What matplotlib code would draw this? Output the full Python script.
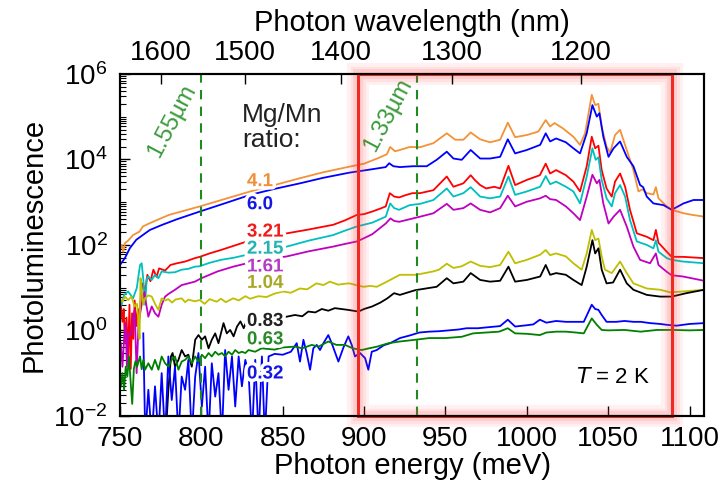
import matplotlib
matplotlib.use('Agg')
import matplotlib.pyplot as plt
from matplotlib.patches import Rectangle
from matplotlib.ticker import LogLocator, FixedLocator, NullFormatter
import matplotlib.patheffects as pe
import numpy as np

plt.rcParams['font.family'] = ['Liberation Sans', 'DejaVu Sans']

# ---- data (log10 of photoluminescence) ----
e_41 = [750, 751, 752, 753, 755, 758, 762, 764, 768.4, 780, 799, 815, 830, 845, 860.6, 875, 891, 900, 908,
        914, 916, 919, 922, 928, 934.4, 942.6, 950.8, 956, 961, 965.5, 971.3, 977.4, 983.6, 988.3, 992.8,
        1000, 1007, 1011.6, 1014.3, 1017, 1022, 1028.6, 1032.7, 1035.8, 1039.9, 1042, 1044, 1046, 1049,
        1051.2, 1054.2, 1057.3, 1061.4, 1065.5, 1068.6, 1071, 1073.7, 1077.8, 1079.3, 1080.9, 1086, 1089,
        1096.3, 1102, 1109]
log_41 = [1.92, 2.0, 1.84, 2.04, 2.1, 2.23, 2.31, 2.43, 2.51, 2.70, 2.90, 3.08, 3.25, 3.40, 3.56, 3.70, 3.83,
          3.90, 4.02, 4.12, 4.29, 4.19, 4.22, 4.29, 4.285, 4.38, 4.61, 4.46, 4.46, 4.63, 4.47, 4.40, 4.46,
          4.86, 4.52, 4.57, 4.65, 4.92, 4.77, 4.85, 4.73, 4.53, 4.34, 4.61, 5.51, 5.27, 5.30, 4.77, 4.30,
          4.16, 4.57, 4.69, 4.22, 3.75, 3.25, 3.30, 3.21, 3.18, 3.35, 3.09, 2.90, 2.82, 2.74, 2.70, 2.66]

e_60 = [750, 753, 756, 760, 764, 768.4, 776, 785, 799, 815, 830, 845, 860.6, 875, 891, 905, 913.3, 915.4,
        918, 922, 930, 938.5, 944.6, 950.8, 954.9, 960, 965.5, 971.3, 977.4, 983.6, 988.3, 992.8, 1000,
        1008.2, 1011.6, 1014.3, 1018, 1024, 1028.6, 1032.7, 1036.8, 1040.3, 1043, 1044.6, 1047, 1050.2,
        1053.3, 1057.3, 1061.4, 1065.5, 1069.6, 1071.5, 1073.7, 1077.8, 1084, 1089, 1096.3, 1102.4, 1109]
log_60 = [1.53, 1.69, 1.92, 2.12, 2.23, 2.35, 2.47, 2.60, 2.78, 2.98, 3.17, 3.31, 3.44, 3.57, 3.69, 3.77,
          3.82, 3.91, 3.84, 3.82, 3.84, 3.84, 3.99, 4.18, 4.02, 3.99, 4.22, 4.02, 4.02, 4.06, 4.47, 4.14,
          4.22, 4.34, 4.61, 4.42, 4.49, 4.40, 4.26, 4.14, 4.61, 5.27, 5.0, 5.08, 4.53, 4.06, 4.26, 4.42,
          4.06, 3.84, 3.40, 3.35, 3.13, 2.97, 2.93, 2.82, 2.97, 3.05, 3.05]

e_321 = [750.5, 751.5, 752.3, 753, 754, 755, 755.8, 756.6, 757.4, 758.2, 759, 760, 761, 762, 763, 764, 765.4,
         766.8, 768.7, 770.5, 772.5, 774, 777.7, 781, 785, 790, 796, 799, 805, 812, 820, 828, 840, 852.5,
         866, 881, 888, 895.5, 900, 905, 910, 913.3, 915.8, 918.5, 921.5, 926, 929.7, 934.4, 942.6, 950.8,
         954.9, 961, 965.5, 968, 971.3, 975, 980, 983.6, 988.7, 992.8, 1000, 1008, 1011.6, 1014.3, 1018,
         1024, 1028.6, 1032.7, 1036.8, 1039.9, 1042, 1044, 1046, 1049, 1052.2, 1054.2, 1057.3, 1060.4,
         1063.4, 1067.6, 1073.7, 1077.8, 1079.3, 1080.9, 1086, 1089, 1096, 1109]
log_321 = [0.6, 0.2, 0.5, -0.3, 0.3, -0.6, 0.6, -0.9, 0.4, -0.2, 0.7, 0.1, 0.5, 0.3, 0.9, 1.10, 0.9, 1.30,
           1.15, 1.42, 1.25, 1.45, 1.40, 1.53, 1.57, 1.61, 1.69, 1.72, 1.80, 1.88, 1.98, 2.08, 2.16, 2.27,
           2.36, 2.47, 2.57, 2.70, 2.72, 2.78, 2.85, 2.90, 3.21, 3.13, 3.11, 3.17, 3.21, 3.21, 3.28, 3.60,
           3.36, 3.44, 3.63, 3.52, 3.40, 3.32, 3.36, 3.32, 3.85, 3.40, 3.52, 3.63, 3.90, 3.67, 3.75, 3.63,
           3.48, 3.25, 3.84, 4.53, 4.26, 4.32, 3.75, 3.32, 3.13, 3.48, 3.67, 3.36, 2.82, 2.27, 2.19, 2.11,
           2.35, 2.05, 1.84, 1.72, 1.72, 1.69]

e_215 = [750, 751, 752.5, 755, 758, 760.3, 762.3, 763.3, 764.3, 765.4, 766.4, 767.4, 769.5, 771.5, 773.6,
         775.6, 779.7, 783.8, 787.9, 792, 796, 799, 805, 812, 820, 828, 840, 852.5, 866, 881, 888, 895.5,
         905, 913.3, 916, 918.5, 921.5, 928, 934.4, 942.6, 950.8, 954.9, 961, 965.5, 971.3, 977.4, 983.6,
         988.7, 992.8, 1000, 1008.2, 1011.6, 1014.3, 1018, 1024, 1028.6, 1032.7, 1036.8, 1040.3, 1042.3,
         1044, 1046, 1049, 1052.2, 1054.2, 1057.3, 1060.4, 1063.4, 1067.6, 1073.7, 1077.8, 1079.3, 1080.9,
         1086, 1089, 1096, 1109]
log_215 = [0.75, 0.60, 0.83, 0.91, 0.75, 0.99, 1.53, 1.57, 1.2, 0.60, 1.22, 1.26, 1.18, 1.30, 1.22, 1.38,
           1.35, 1.36, 1.42, 1.44, 1.49, 1.50, 1.58, 1.65, 1.70, 1.77, 1.86, 1.96, 2.10, 2.23, 2.33, 2.43,
           2.52, 2.66, 2.97, 2.86, 2.82, 2.93, 2.96, 3.05, 3.32, 3.13, 3.21, 3.35, 3.13, 3.09, 3.13, 3.60,
           3.17, 3.25, 3.36, 3.61, 3.42, 3.48, 3.36, 3.25, 2.97, 3.60, 4.26, 3.99, 4.05, 3.52, 3.09, 2.90,
           3.21, 3.40, 3.13, 2.58, 2.08, 2.00, 1.92, 2.11, 1.84, 1.69, 1.65, 1.61, 1.57]

e_161 = [750.5, 751.5, 752.5, 753.5, 754.2, 755, 757, 758, 759, 760.2, 761.4, 763.4, 765, 766, 767.4, 769.5,
         771.5, 773.6, 775.6, 777.7, 779.7, 783.8, 787.9, 792, 796, 800, 810, 819.5, 828, 840, 852.5, 866,
         881, 888, 895.5, 899.6, 905, 910, 913.3, 916.2, 918.5, 921.5, 928, 934.4, 942.6, 950.8, 954.9,
         961, 965.5, 971.3, 977.4, 983.6, 988.3, 992.8, 1000, 1008.2, 1011.6, 1014.3, 1018, 1024, 1028.6,
         1032.7, 1036.8, 1040.3, 1043, 1044.6, 1047, 1050.2, 1053.3, 1057.3, 1061.4, 1065.5, 1069.6,
         1075.7, 1079.3, 1080.9, 1086, 1089, 1096, 1109]
log_161 = [-0.30, -0.85, -0.22, 0.17, -0.85, -0.07, -0.10, 0.3, 0.48, -1.0, 0.17, 0.63, 0.9, 0.63, 0.32,
           0.56, 0.40, 0.32, 0.60, 0.79, 0.85, 0.95, 1.06, 1.10, 1.14, 1.22, 1.38, 1.49, 1.57, 1.66, 1.73,
           1.85, 1.96, 2.02, 2.08, 2.15, 2.25, 2.40, 2.50, 2.62, 2.56, 2.54, 2.60, 2.66, 2.74, 2.96, 2.82,
           2.86, 2.97, 2.82, 2.76, 2.86, 3.15, 2.90, 3.01, 3.09, 3.15, 3.07, 3.05, 2.90, 2.74, 2.58, 3.13,
           3.64, 3.44, 3.52, 2.97, 2.50, 2.66, 2.82, 2.43, 1.96, 1.65, 1.57, 1.80, 1.53, 1.37, 1.29, 1.26,
           1.16]

e_104 = [750, 751.5, 753, 755, 757, 759, 760.5, 761.5, 762, 762.6, 763.5, 764.3, 765.4, 767.4, 769.5, 771.5,
         773.6, 775.6, 777.7, 779.7, 782, 784, 787.9, 790, 792, 796, 799, 802, 805, 809.4, 812, 815, 819.5,
         823, 827, 830, 835, 840, 845, 850.2, 855, 860.5, 865, 870.7, 875, 879, 884, 888, 891, 895, 899.6,
         904, 907.8, 912, 918, 922, 931.4, 936, 942.6, 946, 950.8, 954.9, 960, 965.5, 971.3, 977.4, 983.6,
         988.7, 992.8, 1000, 1008.2, 1011.6, 1014.3, 1018, 1024, 1028.6, 1033.7, 1036.8, 1039.9, 1042,
         1044, 1046, 1048, 1052.2, 1057.3, 1061.4, 1065.5, 1073.7, 1082, 1088, 1096, 1109]
log_104 = [0.71, 0.67, 0.79, 0.71, 0.79, 0.56, 0.62, 0.10, -0.2, 1.22, 0.9, 0.60, 0.75, 0.82, 0.79, 0.62,
           0.48, 0.75, 0.70, 0.73, 0.65, 0.72, 0.75, 0.66, 0.72, 0.68, 0.71, 0.62, 0.73, 0.67, 0.74, 0.66,
           0.75, 0.70, 0.80, 0.74, 0.80, 0.78, 0.86, 0.91, 0.88, 0.98, 0.96, 1.10, 1.06, 1.14, 1.07, 1.09,
           1.10, 1.06, 1.02, 1.04, 1.02, 1.10, 1.22, 1.30, 1.30, 1.33, 1.38, 1.42, 1.56, 1.46, 1.50, 1.61,
           1.51, 1.48, 1.53, 1.84, 1.57, 1.65, 1.77, 1.88, 1.76, 1.80, 1.73, 1.57, 1.42, 1.80, 2.35, 2.11,
           2.15, 1.73, 1.42, 1.34, 1.61, 1.34, 1.10, 0.98, 0.95, 0.89, 0.91, 0.95]

e_083 = [778, 779.7, 781.3, 782.3, 783.8, 785.9, 787.9, 790, 792, 794.1, 796.2, 798.2, 800.3, 802.3, 804.4,
         806.4, 808.5, 810.5, 813.6, 815.6, 817.7, 819.8, 821.9, 824, 826, 828, 830, 852.4, 857.5, 862,
         865.7, 870, 874, 878, 882, 886, 890, 896.5, 900, 905, 910, 914.3, 918.4, 922, 931.4, 938, 944.6,
         950.8, 954.9, 961, 965.5, 971.3, 977.4, 983.6, 988.7, 992.8, 1000, 1008.2, 1011.6, 1014.3, 1018,
         1024, 1028.6, 1033.7, 1036.8, 1040.3, 1042, 1044, 1046, 1049, 1053, 1057.3, 1061.4, 1065.5,
         1073.7, 1082, 1089, 1098, 1109]
log_083 = [-2.5, -1.4, -0.61, -0.53, -0.85, -0.69, -0.46, -0.61, -0.57, -0.85, -0.22, -0.11, -0.22, -0.14,
           -0.42, -0.22, -0.07, -0.30, 0.17, -0.07, 0.01, -0.14, 0.09, 0.21, 0.05, 0.25, 0.21, 0.32, 0.36,
           0.33, 0.44, 0.42, 0.50, 0.46, 0.52, 0.50, 0.48, 0.44, 0.50, 0.56, 0.65, 0.75, 0.87, 0.83, 0.94,
           0.98, 1.02, 1.22, 1.10, 1.14, 1.34, 1.18, 1.14, 1.16, 1.49, 1.14, 1.18, 1.26, 1.53, 1.30, 1.34,
           1.30, 1.18, 1.06, 1.49, 2.11, 1.80, 1.92, 1.42, 1.10, 1.12, 1.42, 1.10, 0.95, 0.83, 0.79, 0.79,
           0.87, 0.95]

e_063 = [750.5, 751.5, 752.5, 753.5, 754.5, 755.5, 756.6, 757.5, 758.5, 759.5, 760.5, 762.3, 763.3, 764.3,
         765.4, 767.4, 769.5, 771.5, 773.6, 775.6, 777.7, 779.7, 781.8, 783.8, 785.9, 787.9, 790, 792,
         794.1, 796.2, 798.2, 800.3, 802.3, 804.4, 806.4, 808.5, 810.5, 812.6, 814.6, 816.7, 818.8, 820.8,
         822.9, 824.9, 827, 829, 833, 837, 845, 850, 857.5, 862, 867.8, 872, 878, 883, 888.3, 893, 898.5,
         903, 908, 915, 922, 931.4, 940, 950, 960, 967, 975, 983, 988.3, 992.8, 1000, 1008, 1012, 1018,
         1024, 1030, 1035, 1039.9, 1043, 1046, 1050, 1060, 1070, 1080, 1090, 1100, 1109]
log_063 = [-1.31, -1.0, -1.39, -0.85, -1.08, -0.61, -1.25, -1.72, -0.9, -0.72, -0.85, -0.61, -0.91, -0.69,
           -0.92, -0.77, -0.92, -0.69, -0.92, -0.61, -0.77, -0.85, -0.69, -0.61, -0.92, -0.73, -0.69, -0.61,
           -0.77, -0.61, -0.73, -0.57, -0.65, -0.53, -0.61, -0.50, -0.57, -0.53, -0.61, -0.50, -0.57, -0.46,
           -0.53, -0.50, -0.53, -0.46, -0.50, -0.42, -0.45, -0.40, -0.38, -0.42, -0.34, -0.38, -0.26, -0.34,
           -0.34, -0.42, -0.46, -0.42, -0.38, -0.30, -0.26, -0.22, -0.18, -0.18, -0.15, -0.07, -0.05, -0.03,
           0.05, -0.07, -0.08, -0.11, -0.05, -0.03, -0.03, -0.05, -0.07, 0.28, 0.13, 0.01, 0.0, 0.01, -0.03,
           0.01, 0.01, 0.0, 0.01]

e_032 = [764.3, 765.5, 767.4, 769.5, 771.5, 773.6, 775.6, 777.7, 779.7, 781.8, 783.8, 785.9, 787.9, 790,
         792, 794.1, 796.2, 798.2, 800.3, 802.3, 804.4, 806.4, 808.5, 810.5, 812.6, 814.6, 816.7, 818.8,
         820.8, 822.9, 824.9, 827, 829, 831.1, 833.1, 835.2, 837.2, 839, 841.3, 845, 850, 855, 858.6, 860.6,
         862.7, 864.7, 866.8, 868.8, 870.9, 872.9, 875, 878, 880.1, 884.2, 887.3, 890.3, 892.4, 894.4,
         897.5, 900.6, 902.6, 904.7, 907.8, 912, 916, 922, 928, 934, 940, 946, 952, 958, 963, 970, 978,
         983.6, 988.3, 992.8, 1000, 1004, 1008, 1012, 1018, 1024, 1030, 1035, 1039.9, 1042, 1044, 1046,
         1049, 1055, 1060, 1065.5, 1070, 1075.7, 1082, 1086, 1092, 1100, 1109]
log_032 = [-0.07, -2.5, -1.39, -2.5, -1.31, -2.5, -1.0, -2.5, -0.61, -1.63, -0.85, -2.5, -1.08, -1.39, -0.69,
           -2.5, -1.08, -0.53, -1.78, -0.85, -2.5, -0.77, -1.55, -1.0, -2.5, -0.46, -1.39, -0.61, -1.78,
           -0.61, -1.31, -0.69, -1.0, -2.5, -0.69, -2.5, -0.61, -2.5, -0.61, -0.55, -0.57, -0.50, -0.30,
           -0.73, -0.22, -0.53, -0.92, -0.42, -0.34, -0.46, -0.30, -0.11, -0.30, -0.73, -0.40, -0.14, -0.34,
           -0.61, -0.53, -0.65, -0.92, -0.50, -0.46, -0.35, -0.30, -0.18, -0.12, -0.05, -0.03, -0.02, 0.0,
           0.02, 0.05, 0.05, 0.08, 0.10, 0.25, 0.09, 0.12, 0.14, 0.25, 0.18, 0.22, 0.20, 0.20, 0.20, 0.60,
           0.50, 0.48, 0.36, 0.20, 0.20, 0.22, 0.20, 0.20, 0.17, 0.15, 0.13, 0.11, 0.15, 0.17]

# ratio labels: text, log10 y position, colour
ratio_text = ['4.1', '6.0', '3.21', '2.15', '1.61', '1.04', '0.83', '0.63', '0.32']
ratio_logy = [3.48, 2.94, 2.30, 1.90, 1.48, 1.10, 0.21, -0.22, -1.02]
ratio_col = ['#ef8f3a', '#1515e6', '#ee1c1c', '#22b3b3', '#b23cc4', '#a8a828', '#222222', '#2a8a2a', '#1515e6']

wavelength_ticks = [1600, 1500, 1400, 1300, 1200]
marker_um = [1.55, 1.33]

# ---- plot ----
fig = plt.figure(figsize=(7.23, 4.83), dpi=100)
ax = fig.add_axes([0.166, 0.139, 0.808, 0.708])

curves = [
    (e_41, log_41, '#f39237'),
    (e_60, log_60, '#0000ff'),
    (e_321, log_321, '#ff0000'),
    (e_215, log_215, '#00bfbf'),
    (e_161, log_161, '#bf00bf'),
    (e_104, log_104, '#bfbf00'),
    (e_083, log_083, '#000000'),
    (e_032, log_032, '#0000ff'),
    (e_063, log_063, '#008000'),
]
for e, lg, c in curves:
    ax.plot(e, 10.0 ** np.array(lg), color=c, lw=1.3)

ax.set_yscale('log')
ax.set_xlim(750, 1109)
ax.set_ylim(1e-2, 1e6)

# dashed marker lines at 1.55 um and 1.33 um
for um in marker_um:
    ln = ax.axvline(1239.84 / um, color='#1f8a1f', lw=1.5)
    ln.set_dashes((4.5, 3.5))
ax.text(782, 10 ** 4.9, '1.55\u00b5m', color='#3a9a3a', fontsize=17, rotation=62,
        ha='center', va='center')
ax.text(915, 10 ** 5.05, '1.33\u00b5m', color='#3a9a3a', fontsize=17, rotation=62,
        ha='center', va='center')

ax.text(825, 10 ** 4.74, 'Mg/Mn\nratio:', fontsize=19, color='#222222', ha='left', va='center',
        linespacing=1.05)

# ratio labels; a white outline hides the curves running behind them
for t, y, c in zip(ratio_text, ratio_logy, ratio_col):
    ax.text(828, 10 ** y, t, color=c, fontsize=13.5, fontweight='bold', ha='left', va='center',
            zorder=4, path_effects=[pe.withStroke(linewidth=5, foreground='white')])

ax.text(1053, 10 ** -1.11, '$T$ = 2 K', fontsize=16, ha='center', va='center')

# axes styling
for sp in ax.spines.values():
    sp.set_linewidth(1.5)
ax.set_xticks(np.arange(750, 1101, 50))
ax.yaxis.set_major_locator(LogLocator(base=100, numticks=10))
ax.yaxis.set_minor_locator(LogLocator(base=10, subs=np.arange(1, 10), numticks=100))
ax.yaxis.set_minor_formatter(NullFormatter())
ax.tick_params(axis='both', which='major', direction='in', length=7, width=1, labelsize=20)
ax.tick_params(axis='x', pad=7)
ax.tick_params(axis='y', which='minor', direction='in', length=4, width=0.8)
ax.tick_params(axis='y', pad=9)
ax.tick_params(right=False, top=False)
ax.set_xlabel('Photon energy (meV)', fontsize=21, labelpad=0)
ax.set_ylabel('Photoluminescence', fontsize=21, labelpad=4)

# top wavelength axis
ax2 = ax.twiny()
ax2.set_xlim(ax.get_xlim())
ax2.xaxis.set_major_locator(FixedLocator([1239841.98 / w for w in wavelength_ticks]))
ax2.set_xticklabels([str(w) for w in wavelength_ticks])
ax2.tick_params(axis='x', direction='in', length=7, width=1, labelsize=20, pad=6)
ax2.set_xlabel('Photon wavelength (nm)', fontsize=21, labelpad=6)
for sp in ax2.spines.values():
    sp.set_linewidth(1.5)

# highlighted region with soft glow
box_x0, box_x1 = 896, 1089
tr = ax.get_xaxis_transform()
for lw, a in [(16, 0.07), (11, 0.09), (7, 0.12)]:
    ax.add_patch(Rectangle((box_x0, 0), box_x1 - box_x0, 1, transform=tr, fill=False,
                           edgecolor='#ff4040', lw=lw, alpha=a, clip_on=False, zorder=6))
ax.add_patch(Rectangle((box_x0, 0), box_x1 - box_x0, 1, transform=tr, fill=False,
                       edgecolor='#ee2a22', lw=2.2, clip_on=False, zorder=7))

fig.savefig('out.png', dpi=100)
